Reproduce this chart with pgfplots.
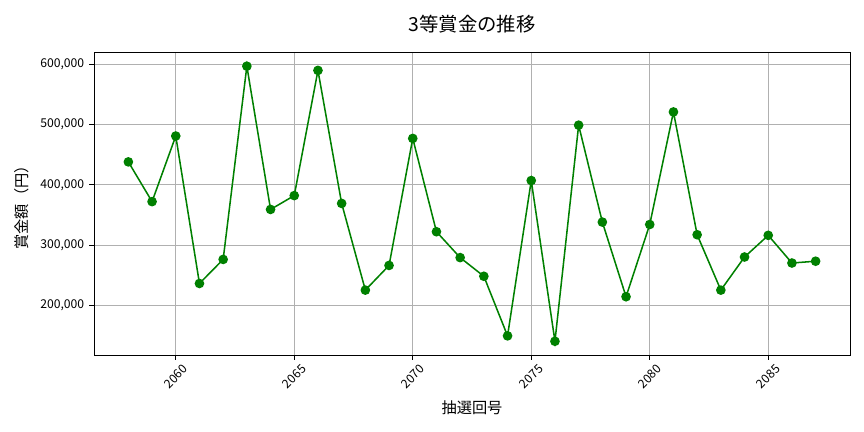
\documentclass[border=0pt]{standalone}
\usepackage{fontspec}
\setmainfont{Noto Sans CJK JP}
\usepackage{pgfplots}
\pgfplotsset{compat=1.18}
\definecolor{linegreen}{RGB}{0,128,0}
\definecolor{gridgray}{RGB}{176,176,176}
\begin{document}
\begin{tikzpicture}
\begin{axis}[
    scale only axis,
    width=544.32bp, height=217.7bp,
    xmin=2056.55, xmax=2088.45,
    ymin=117200, ymax=619500,
    xtick={2060,2065,2070,2075,2080,2085},
    ytick={200000,300000,400000,500000,600000},
    scaled y ticks=false,
    tick align=outside,
    major tick length=3.5bp,
    tick style={black, line width=0.6bp},
    xtick pos=bottom, ytick pos=left,
    axis line style={line width=0.6bp},
    grid=major,
    major grid style={gridgray, line width=0.6bp},
    /pgf/number format/assume math mode=true,
    tick label style={font=\fontsize{8.8}{10}\selectfont},
    yticklabel style={/pgf/number format/.cd, fixed, 1000 sep={,}},
    xticklabel style={/pgf/number format/.cd, 1000 sep={}, /tikz/.cd,
        yshift=-12bp, rotate=45, anchor=center},
]
\addplot[linegreen, line width=1.1bp, mark=*, mark size=2.9bp,
    mark options={fill=linegreen, draw=linegreen}] coordinates {
(2058,438000) (2059,372000) (2060,481000) (2061,236000) (2062,276000)
(2063,597000) (2064,359000) (2065,382000) (2066,590000) (2067,369000)
(2068,225000) (2069,266000) (2070,477000) (2071,322000) (2072,279000)
(2073,248000) (2074,149000) (2075,407000) (2076,140000) (2077,499000)
(2078,338000) (2079,214000) (2080,334000) (2081,521000) (2082,317000)
(2083,225000) (2084,280000) (2085,316000) (2086,270000) (2087,273000)
};
\end{axis}
\node[font=\fontsize{14}{16}\selectfont] at ([yshift=20.7bp]current axis.north) {3等賞金の推移};
\node[font=\fontsize{11}{13}\selectfont] at ([yshift=-38bp]current axis.south) {抽選回号};
\node[font=\fontsize{11}{13}\selectfont, rotate=90] at ([xshift=-52bp]current axis.west) {賞金額（円）};
\pgfresetboundingbox
\useasboundingbox ([xshift=-67.68bp, yshift=-55.44bp]current axis.south west) rectangle ++(622.08bp,311.04bp);
\end{tikzpicture}
\end{document}
